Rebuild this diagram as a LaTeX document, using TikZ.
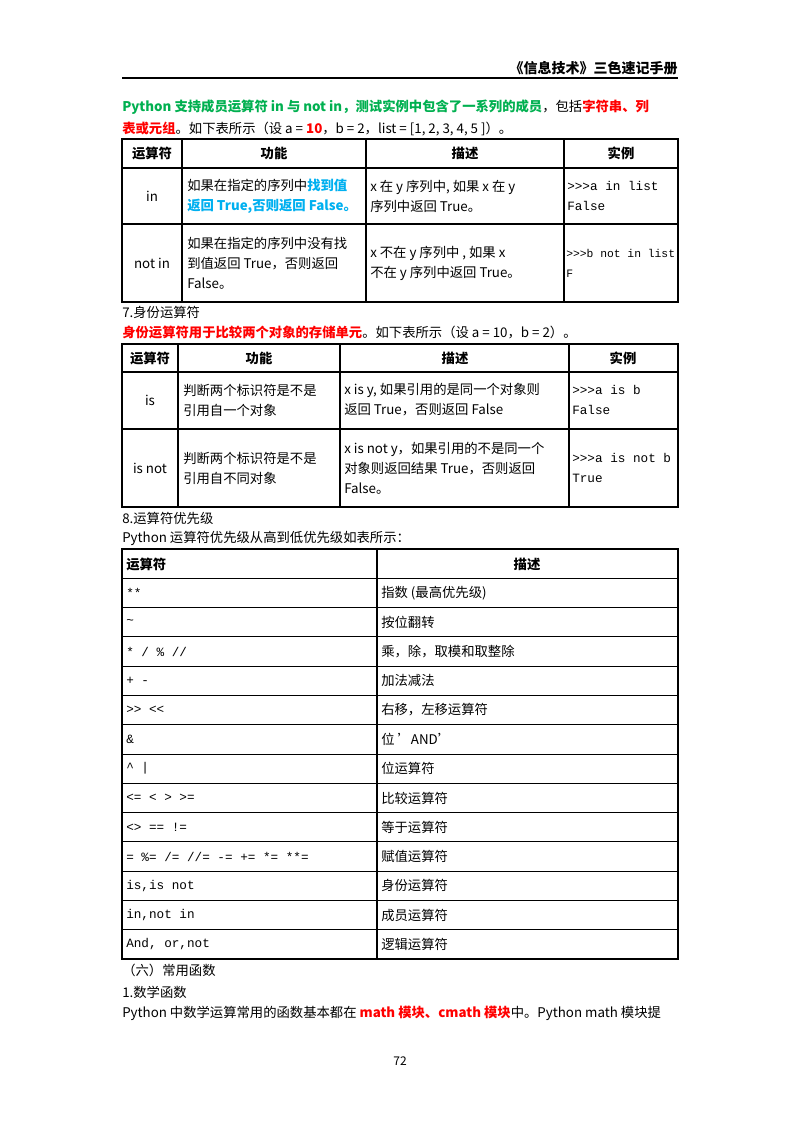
\documentclass[tikz,border=0pt]{standalone}
\usepackage{fontspec}
\setmainfont{Noto Sans CJK SC}
\newfontfamily\mono{Liberation Mono}
\definecolor{gr}{RGB}{0,176,80}
\definecolor{rd}{RGB}{255,0,0}
\definecolor{bl}{RGB}{0,176,240}
\tikzset{t/.style={anchor=west,inner sep=0pt,font=\fontsize{10}{15}\selectfont,align=left},
 c/.style={inner sep=0pt,font=\fontsize{10}{15}\selectfont,align=center},
 h/.style={inner sep=0pt,font=\fontsize{10}{15}\selectfont\bfseries},
 m/.style={t,font=\fontsize{9.5}{15}\mono},
 grid/.style={line width=0.8pt}}
\newcommand\prow[3]{\node[m] (p#1) at (126,{563.6+#1*29.29}) {#2};
 \node[t] (q#1) at (381,{563.6+#1*29.29}) {#3};}
\begin{document}
\begin{tikzpicture}[x=0.75pt,y=-0.75pt]
\useasboundingbox[fill=white] (0,0) rectangle (800,1132);
% header
\node[anchor=east,inner sep=0pt,font=\fontsize{10.5}{12}\selectfont\bfseries] (hd) at (678,68) {《信息技术》三色速记手册};
\draw[line width=0.8pt] (122,78) -- (678,78);
\node[t] (l1) at (122,107) {\textcolor{gr}{\bfseries Python 支持成员运算符 in 与 not in，测试实例中包含了一系列的成员}，包括\textcolor{rd}{\bfseries 字符串、列}};
\node[t] (l2) at (122,129) {\textcolor{rd}{\bfseries 表或元组}。如下表所示（设 a = \textcolor{rd}{\bfseries 10}，b = 2，list = [1, 2, 3, 4, 5 ]）。};
% table 1
\draw[grid] (122,139) rectangle (678,302);
\draw[grid] (122,168) -- (678,168) (122,224) -- (678,224);
\draw[grid] (182,139) -- (182,302) (366,139) -- (366,302) (564,139) -- (564,302);
\node[h] (a1) at (152,153) {运算符};
\node[h] (a2) at (274,153) {功能};
\node[h] (a3) at (465,153) {描述};
\node[h] (a4) at (621,153) {实例};
\node[c] (b1) at (152,196) {in};
\node[t] (b2) at (187,196) {如果在指定的序列中\textcolor{bl}{\bfseries 找到值}\\\textcolor{bl}{\bfseries 返回 True,否则返回 False。}};
\node[t] (b3) at (370,196) {x 在 y 序列中, 如果 x 在 y\\序列中返回 True。};
\node[m] (b4) at (567,196) {>{}>{}>a in list\\False};
\node[c] (c1) at (152,263) {not in};
\node[t] (c2) at (187,263) {如果在指定的序列中没有找\\到值返回 True，否则返回\\False。};
\node[t] (c3) at (370,263) {x 不在 y 序列中 , 如果 x\\不在 y 序列中返回 True。};
\node[m,font=\fontsize{8.5}{15}\mono] (c4) at (566,263) {>{}>{}>b not in list\\F};
% section 7
\node[t] (s7) at (122,312) {7.身份运算符};
\node[t] (s7b) at (122,332) {\textcolor{rd}{\bfseries 身份运算符用于比较两个对象的存储单元}。如下表所示（设 a = 10，b = 2）。};
\draw[grid] (122,344) rectangle (678,507);
\draw[grid] (122,372) -- (678,372) (122,429) -- (678,429);
\draw[grid] (178,344) -- (178,507) (340,344) -- (340,507) (569,344) -- (569,507);
\node[h] (d1) at (150,358) {运算符};
\node[h] (d2) at (259,358) {功能};
\node[h] (d3) at (455,358) {描述};
\node[h] (d4) at (623,358) {实例};
\node[c] (e1) at (150,400) {is};
\node[t] (e2) at (183,400) {判断两个标识符是不是\\引用自一个对象};
\node[t] (e3) at (344,400) {x is y, 如果引用的是同一个对象则\\返回 True，否则返回 False};
\node[m] (e4) at (572,400) {>{}>{}>a is b\\False};
\node[c] (f1) at (150,468) {is not};
\node[t] (f2) at (183,468) {判断两个标识符是不是\\引用自不同对象};
\node[t] (f3) at (344,468) {x is not y，如果引用的不是同一个\\对象则返回结果 True，否则返回\\False。};
\node[m] (f4) at (572,468) {>{}>{}>a is not b\\True};
% section 8
\node[t] (s8) at (122,518) {8.运算符优先级};
\node[t] (s8b) at (122,538) {Python 运算符优先级从高到低优先级如表所示：};
\draw[grid] (122,549) rectangle (678,959);
\draw[grid] (377,549) -- (377,959);
\foreach \i in {1,...,13} \draw[grid] (122,{549+\i*29.29}) -- (678,{549+\i*29.29});
\node[h,anchor=west] (g1) at (126,564) {运算符};
\node[h] (g2) at (527,564) {描述};
\prow{1}{**}{指数 (最高优先级)}
\prow{2}{\textasciitilde}{按位翻转}
\prow{3}{* / \% //}{乘，除，取模和取整除}
\prow{4}{+ -}{加法减法}
\prow{5}{>{}> <{}<}{右移，左移运算符}
\prow{6}{\&}{位 'AND'}
\prow{7}{\textasciicircum\ |}{位运算符}
\prow{8}{<= < > >=}{比较运算符}
\prow{9}{<> == !=}{等于运算符}
\prow{10}{= \%= /= //= -= += *= **=}{赋值运算符}
\prow{11}{is,is not}{身份运算符}
\prow{12}{in,not in}{成员运算符}
\prow{13}{And, or,not}{逻辑运算符}
\node[t] (s6) at (122,970) {（六）常用函数};
\node[t] (s61) at (122,992) {1.数学函数};
\node[t] (s62) at (122,1013) {Python 中数学运算常用的函数基本都在 \textcolor{rd}{\bfseries math 模块、cmath 模块}中。Python math 模块提};
\node[inner sep=0pt,font=\fontsize{9}{10}\selectfont] (pg) at (400,1061) {72};
\end{tikzpicture}
\end{document}
